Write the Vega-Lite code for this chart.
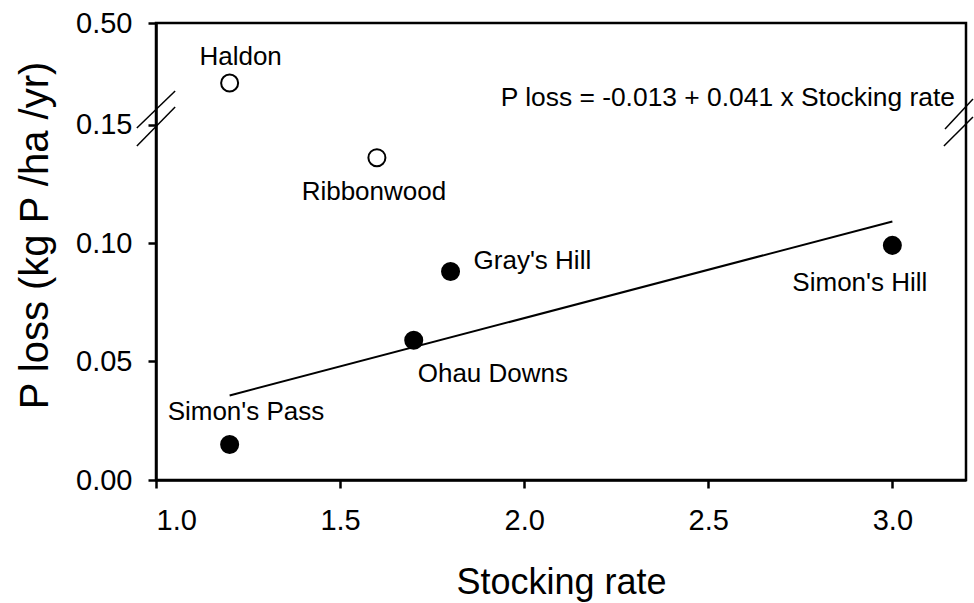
{
  "$schema": "https://vega.github.io/schema/vega-lite/v6.json",
  "width": 810,
  "height": 457,
  "autosize": "none",
  "padding": {"left": 156, "top": 23, "right": 8, "bottom": 123},
  "background": "white",
  "config": {
    "font": "Liberation Sans",
    "view": {"stroke": "black", "strokeWidth": 2.5},
    "axis": {
      "grid": false,
      "domainColor": "black",
      "domainWidth": 2.5,
      "tickColor": "black",
      "tickWidth": 2.5,
      "tickSize": 8,
      "labelColor": "black",
      "titleColor": "black",
      "labelFont": "Liberation Sans",
      "titleFont": "Liberation Sans",
      "labelFontSize": 29,
      "titleFontSize": 36,
      "titleFontWeight": "normal"
    }
  },
  "datasets": {
    "sites": [
      {"site": "Haldon", "rate": 1.2, "loss": 0.293, "group": "excluded"},
      {"site": "Ribbonwood", "rate": 1.6, "loss": 0.136, "group": "excluded"},
      {"site": "Gray's Hill", "rate": 1.8, "loss": 0.088, "group": "fit"},
      {"site": "Ohau Downs", "rate": 1.7, "loss": 0.059, "group": "fit"},
      {"site": "Simon's Pass", "rate": 1.2, "loss": 0.015, "group": "fit"},
      {"site": "Simon's Hill", "rate": 3.0, "loss": 0.099, "group": "fit"}
    ],
    "breaks": [
      {"rate": 0.948, "loss": 0.1485, "rate2": 1.052, "loss2": 0.2655},
      {"rate": 0.948, "loss": 0.1409, "rate2": 1.052, "loss2": 0.2103},
      {"rate": 3.143, "loss": 0.1481, "rate2": 3.219, "loss2": 0.238},
      {"rate": 3.140, "loss": 0.1409, "rate2": 3.219, "loss2": 0.176}
    ],
    "notes": [
      {"note": "P loss = -0.013 + 0.041 x Stocking rate", "rate": 3.2, "loss": 0.15}
    ]
  },
  "encoding": {
    "x": {
      "field": "rate",
      "type": "quantitative",
      "scale": {"domain": [1.0, 3.2], "nice": false, "zero": false},
      "axis": {
        "title": "Stocking rate",
        "values": [1.0, 1.5, 2.0, 2.5, 3.0],
        "format": ".1f",
        "labelPadding": 18,
        "titlePadding": 30
      }
    },
    "y": {
      "field": "loss",
      "type": "quantitative",
      "scale": {"domain": [0, 0.15, 0.5], "range": [457, 101.5, 0], "nice": false, "zero": false},
      "axis": {
        "title": "P loss (kg P /ha /yr)",
        "values": [0, 0.05, 0.1, 0.15, 0.5],
        "format": ".2f",
        "labelPadding": 16,
        "titlePadding": 20,
        "titleFontSize": 40,
        "titleY": 212
      }
    }
  },
  "layer": [
    {
      "data": {"name": "sites"},
      "transform": [
        {"filter": {"field": "group", "equal": "fit"}},
        {"regression": "loss", "on": "rate", "extent": [1.2, 3.0]}
      ],
      "mark": {"type": "line", "color": "black", "strokeWidth": 2}
    },
    {
      "data": {"name": "breaks"},
      "mark": {"type": "rule", "color": "black", "strokeWidth": 1.5},
      "encoding": {
        "x2": {"field": "rate2"},
        "y2": {"field": "loss2"}
      }
    },
    {
      "data": {"name": "sites"},
      "mark": {"type": "point", "shape": "circle", "size": 290, "stroke": "black", "strokeWidth": 2, "opacity": 1, "filled": false},
      "encoding": {
        "fill": {
          "field": "group",
          "type": "nominal",
          "scale": {"domain": ["fit", "excluded"], "range": ["black", "white"]},
          "legend": null
        }
      }
    },
    {
      "data": {"name": "sites"},
      "transform": [{"filter": {"field": "site", "equal": "Haldon"}}],
      "mark": {"type": "text", "fontSize": 26, "align": "center", "baseline": "alphabetic", "dx": 11, "dy": -18, "color": "black"},
      "encoding": {"text": {"field": "site", "type": "nominal"}}
    },
    {
      "data": {"name": "sites"},
      "transform": [{"filter": {"field": "site", "equal": "Ribbonwood"}}],
      "mark": {"type": "text", "fontSize": 26, "align": "center", "baseline": "alphabetic", "dx": -3, "dy": 42, "color": "black"},
      "encoding": {"text": {"field": "site", "type": "nominal"}}
    },
    {
      "data": {"name": "sites"},
      "transform": [{"filter": {"field": "site", "equal": "Gray's Hill"}}],
      "mark": {"type": "text", "fontSize": 26, "align": "left", "baseline": "alphabetic", "dx": 23, "dy": -2, "color": "black"},
      "encoding": {"text": {"field": "site", "type": "nominal"}}
    },
    {
      "data": {"name": "sites"},
      "transform": [{"filter": {"field": "site", "equal": "Ohau Downs"}}],
      "mark": {"type": "text", "fontSize": 26, "align": "left", "baseline": "alphabetic", "dx": 4, "dy": 42, "color": "black"},
      "encoding": {"text": {"field": "site", "type": "nominal"}}
    },
    {
      "data": {"name": "sites"},
      "transform": [{"filter": {"field": "site", "equal": "Simon's Pass"}}],
      "mark": {"type": "text", "fontSize": 26, "align": "left", "baseline": "alphabetic", "dx": -62, "dy": -24, "color": "black"},
      "encoding": {"text": {"field": "site", "type": "nominal"}}
    },
    {
      "data": {"name": "sites"},
      "transform": [{"filter": {"field": "site", "equal": "Simon's Hill"}}],
      "mark": {"type": "text", "fontSize": 26, "align": "right", "baseline": "alphabetic", "dx": 35, "dy": 46, "color": "black"},
      "encoding": {"text": {"field": "site", "type": "nominal"}}
    },
    {
      "data": {"name": "notes"},
      "mark": {"type": "text", "fontSize": 26.4, "align": "right", "baseline": "alphabetic", "dx": -11, "dy": -18.5, "color": "black"},
      "encoding": {"text": {"field": "note", "type": "nominal"}}
    }
  ]
}
